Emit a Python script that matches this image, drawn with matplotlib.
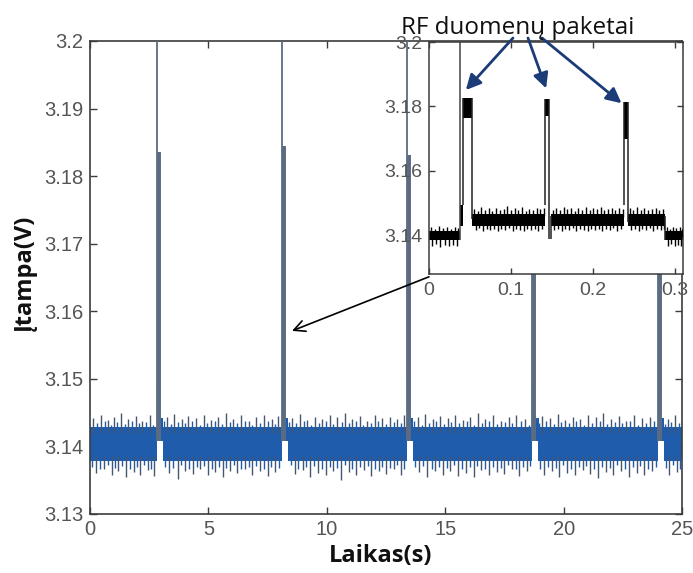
import matplotlib
matplotlib.use("Agg")
import matplotlib.pyplot as plt
from matplotlib.ticker import FuncFormatter

# ---------------- main trace (supply voltage, 25 s record) ----------------
x_ticks = [0, 5, 10, 15, 20, 25]
y_ticks = [3.13, 3.14, 3.15, 3.16, 3.17, 3.18, 3.19, 3.20]

# idle noise band between transmissions
band_start = [0.00, 3.07, 8.35, 13.62, 18.92, 24.22]
band_end = [2.83, 8.11, 13.39, 18.68, 23.99, 25.00]
band_lo = 3.1378
band_hi = 3.1428

# transmission bursts
packet_start = [2.82, 8.10, 13.38, 18.67, 23.98]
packet_peak = [3.215, 3.215, 3.215, 3.215, 3.215]
packet_second = [3.1835, 3.1844, 3.1831, 3.1830, 3.1830]
packet_shoulder = [3.1490, 3.1495, 3.1503, 3.1497, 3.1490]
packet_floor = 3.1408
packet_tail = 3.1442
# time offsets inside one burst: [edge, first pulse, second pulse, shoulder end, burst end]
burst_dt = [0.0, 0.04, 0.12, 0.14, 0.27]

# large noise excursions above / below the idle band (time, voltage)
upper_spikes = [
    (0.12, 3.1442), (0.45, 3.1447), (0.78, 3.1439), (1.02, 3.1444), (1.30, 3.1449),
    (1.62, 3.1441), (1.95, 3.1445), (2.20, 3.1438), (2.55, 3.1446), (3.25, 3.1443),
    (3.55, 3.1448), (3.88, 3.1440), (4.15, 3.1445), (4.48, 3.1442), (4.80, 3.1447),
    (5.10, 3.1439), (5.42, 3.1444), (5.75, 3.1450), (6.05, 3.1441), (6.38, 3.1446),
    (6.70, 3.1438), (7.02, 3.1443), (7.35, 3.1447), (7.68, 3.1440), (7.95, 3.1445),
    (8.55, 3.1442), (8.85, 3.1448), (9.18, 3.1439), (9.50, 3.1444), (9.80, 3.1441),
    (10.12, 3.1446), (10.45, 3.1443), (10.78, 3.1449), (11.05, 3.1440), (11.38, 3.1445),
    (11.70, 3.1438), (12.02, 3.1447), (12.35, 3.1442), (12.65, 3.1444), (12.98, 3.1441),
    (13.25, 3.1446), (13.85, 3.1443), (14.15, 3.1448), (14.48, 3.1440), (14.78, 3.1445),
    (15.10, 3.1442), (15.42, 3.1447), (15.75, 3.1439), (16.05, 3.1444), (16.38, 3.1449),
    (16.70, 3.1441), (17.02, 3.1446), (17.35, 3.1438), (17.68, 3.1443), (18.00, 3.1447),
    (18.35, 3.1440), (19.10, 3.1445), (19.42, 3.1442), (19.75, 3.1448), (20.05, 3.1439),
    (20.38, 3.1444), (20.70, 3.1441), (21.02, 3.1446), (21.35, 3.1443), (21.68, 3.1449),
    (22.00, 3.1440), (22.32, 3.1445), (22.65, 3.1438), (22.98, 3.1447), (23.30, 3.1442),
    (23.65, 3.1444), (24.40, 3.1441), (24.70, 3.1446),
]
lower_spikes = [
    (0.25, 3.1360), (0.60, 3.1366), (0.92, 3.1357), (1.18, 3.1363), (1.50, 3.1354),
    (1.85, 3.1362), (2.10, 3.1358), (2.45, 3.1365), (2.70, 3.1356), (3.35, 3.1361),
    (3.70, 3.1352), (4.02, 3.1364), (4.35, 3.1359), (4.65, 3.1366), (5.00, 3.1357),
    (5.28, 3.1362), (5.60, 3.1355), (5.92, 3.1364), (6.22, 3.1360), (6.55, 3.1366),
    (6.85, 3.1358), (7.18, 3.1363), (7.50, 3.1356), (7.82, 3.1362), (8.65, 3.1359),
    (8.98, 3.1365), (9.30, 3.1354), (9.62, 3.1361), (9.95, 3.1357), (10.28, 3.1364),
    (10.60, 3.1351), (10.92, 3.1362), (11.22, 3.1358), (11.55, 3.1365), (11.88, 3.1356),
    (12.20, 3.1363), (12.50, 3.1359), (12.82, 3.1366), (13.12, 3.1357), (13.90, 3.1362),
    (14.25, 3.1355), (14.58, 3.1364), (14.90, 3.1358), (15.22, 3.1363), (15.55, 3.1356),
    (15.88, 3.1361), (16.20, 3.1354), (16.52, 3.1365), (16.85, 3.1357), (17.18, 3.1362),
    (17.50, 3.1359), (17.82, 3.1366), (18.12, 3.1356), (18.45, 3.1363), (19.15, 3.1358),
    (19.50, 3.1364), (19.82, 3.1355), (20.15, 3.1361), (20.48, 3.1357), (20.80, 3.1365),
    (21.12, 3.1359), (21.45, 3.1353), (21.78, 3.1362), (22.10, 3.1358), (22.42, 3.1364),
    (22.75, 3.1355), (23.08, 3.1361), (23.40, 3.1357), (23.72, 3.1364), (24.45, 3.1358),
    (24.78, 3.1362),
]
# smaller ripple on the band edges (time, voltage)
upper_ripple = [
    (0.28, 3.1434), (0.62, 3.1437), (0.90, 3.1432), (1.16, 3.1436), (1.46, 3.1433),
    (1.78, 3.1438), (2.08, 3.1434), (2.38, 3.1436), (2.68, 3.1432), (3.12, 3.1437),
    (3.40, 3.1433), (3.72, 3.1436), (4.02, 3.1434), (4.32, 3.1438), (4.64, 3.1432),
    (4.95, 3.1435), (5.26, 3.1437), (5.58, 3.1433), (5.90, 3.1436), (6.22, 3.1434),
    (6.54, 3.1438), (6.86, 3.1432), (7.18, 3.1435), (7.52, 3.1437), (7.82, 3.1433),
    (8.42, 3.1436), (8.70, 3.1434), (9.02, 3.1438), (9.34, 3.1432), (9.65, 3.1435),
    (9.96, 3.1437), (10.28, 3.1433), (10.62, 3.1436), (10.92, 3.1434), (11.22, 3.1438),
    (11.54, 3.1432), (11.86, 3.1435), (12.18, 3.1437), (12.50, 3.1433), (12.82, 3.1436),
    (13.12, 3.1434), (13.70, 3.1438), (14.00, 3.1432), (14.32, 3.1435), (14.63, 3.1437),
    (14.94, 3.1433), (15.26, 3.1436), (15.58, 3.1434), (15.90, 3.1438), (16.22, 3.1432),
    (16.54, 3.1435), (16.86, 3.1437), (17.18, 3.1433), (17.52, 3.1436), (17.84, 3.1434),
    (18.18, 3.1438), (18.52, 3.1432), (18.98, 3.1435), (19.26, 3.1437), (19.58, 3.1433),
    (19.90, 3.1436), (20.22, 3.1434), (20.54, 3.1438), (20.86, 3.1432), (21.18, 3.1435),
    (21.52, 3.1437), (21.84, 3.1433), (22.16, 3.1436), (22.48, 3.1434), (22.82, 3.1438),
    (23.14, 3.1432), (23.48, 3.1435), (23.82, 3.1437), (24.30, 3.1433), (24.55, 3.1436),
    (24.88, 3.1434),
]
lower_ripple = [
    (0.08, 3.1370), (0.42, 3.1367), (0.76, 3.1372), (1.05, 3.1368), (1.34, 3.1371),
    (1.68, 3.1366), (1.98, 3.1369), (2.28, 3.1372), (2.58, 3.1367), (3.18, 3.1370),
    (3.52, 3.1368), (3.86, 3.1373), (4.18, 3.1366), (4.50, 3.1369), (4.82, 3.1371),
    (5.14, 3.1367), (5.44, 3.1370), (5.76, 3.1368), (6.08, 3.1372), (6.38, 3.1366),
    (6.70, 3.1369), (7.02, 3.1371), (7.34, 3.1367), (7.66, 3.1370), (7.96, 3.1368),
    (8.48, 3.1372), (8.80, 3.1366), (9.14, 3.1369), (9.46, 3.1371), (9.78, 3.1367),
    (10.12, 3.1370), (10.44, 3.1368), (10.76, 3.1373), (11.08, 3.1366), (11.38, 3.1369),
    (11.72, 3.1371), (12.04, 3.1367), (12.35, 3.1370), (12.66, 3.1368), (12.98, 3.1372),
    (13.26, 3.1366), (13.74, 3.1369), (14.08, 3.1371), (14.42, 3.1367), (14.74, 3.1370),
    (15.06, 3.1368), (15.38, 3.1372), (15.72, 3.1366), (16.04, 3.1369), (16.36, 3.1371),
    (16.68, 3.1367), (17.02, 3.1370), (17.34, 3.1368), (17.66, 3.1372), (17.98, 3.1366),
    (18.30, 3.1369), (18.58, 3.1371), (19.02, 3.1367), (19.32, 3.1370), (19.66, 3.1368),
    (19.98, 3.1372), (20.32, 3.1366), (20.64, 3.1369), (20.96, 3.1371), (21.28, 3.1367),
    (21.62, 3.1370), (21.94, 3.1368), (22.26, 3.1372), (22.58, 3.1366), (22.92, 3.1369),
    (23.24, 3.1371), (23.56, 3.1367), (23.88, 3.1370), (24.32, 3.1368), (24.62, 3.1372),
    (24.92, 3.1366),
]

# ---------------- inset: one 0.31 s window with three RF packets ----------------
ins_x_ticks = [0, 0.1, 0.2, 0.3]
ins_y_ticks = [3.14, 3.16, 3.18, 3.20]

ins_seg_start = [0.0, 0.053, 0.149, 0.2425, 0.288]
ins_seg_end = [0.0376, 0.1415, 0.2385, 0.288, 0.31]
ins_seg_lo = [3.1385, 3.1428, 3.1428, 3.1428, 3.1385]
ins_seg_hi = [3.1413, 3.1466, 3.1466, 3.1466, 3.1413]

ins_wake_t = 0.0376
ins_wake_end = 0.0415
ins_wake_lo = 3.1430
ins_wake_hi = 3.1495
ins_wake_peak = 3.205

ins_pk_start = [0.0415, 0.1415, 0.2385]
ins_pk_end = [0.0525, 0.1460, 0.2425]
ins_pk_top = [3.1825, 3.1822, 3.1815]
ins_pk_block = [3.1765, 3.1770, 3.1700]
ins_pk_base = [3.1450, 3.1390, 3.1440]

ins_step_t = [0.149, 0.288]
ins_step_lo = [3.1390, 3.1385]
ins_step_hi = [3.1460, 3.1460]

ins_upper = [
    (0.002, 3.1426), (0.007, 3.1421), (0.012, 3.1428), (0.017, 3.1422), (0.022, 3.1425),
    (0.027, 3.1420), (0.032, 3.1427), (0.036, 3.1423),
    (0.055, 3.1482), (0.0595, 3.1476), (0.064, 3.1488), (0.0685, 3.1479), (0.073, 3.1484),
    (0.0775, 3.1477), (0.082, 3.1486), (0.0865, 3.1480), (0.091, 3.1483), (0.0955, 3.1491),
    (0.100, 3.1478), (0.1045, 3.1485), (0.109, 3.1480), (0.1135, 3.1487), (0.118, 3.1477),
    (0.1225, 3.1483), (0.127, 3.1479), (0.1315, 3.1486), (0.136, 3.1481), (0.140, 3.1484),
    (0.151, 3.1480), (0.1555, 3.1486), (0.160, 3.1478), (0.1645, 3.1489), (0.169, 3.1481),
    (0.1735, 3.1484), (0.178, 3.1477), (0.1825, 3.1485), (0.187, 3.1480), (0.1915, 3.1487),
    (0.196, 3.1479), (0.2005, 3.1484), (0.205, 3.1481), (0.2095, 3.1488), (0.214, 3.1478),
    (0.2185, 3.1483), (0.223, 3.1486), (0.2275, 3.1479), (0.232, 3.1484), (0.2365, 3.1481),
    (0.245, 3.1484), (0.2495, 3.1479), (0.254, 3.1487), (0.2585, 3.1480), (0.263, 3.1485),
    (0.2675, 3.1478), (0.272, 3.1483), (0.2765, 3.1486), (0.281, 3.1479), (0.2855, 3.1482),
    (0.290, 3.1425), (0.294, 3.1421), (0.298, 3.1427), (0.302, 3.1422), (0.306, 3.1426),
    (0.309, 3.1420),
]
ins_lower = [
    (0.004, 3.1368), (0.009, 3.1372), (0.014, 3.1365), (0.019, 3.1370), (0.024, 3.1367),
    (0.029, 3.1371), (0.034, 3.1366),
    (0.057, 3.1418), (0.0615, 3.1422), (0.066, 3.1414), (0.0705, 3.1420), (0.075, 3.1416),
    (0.0795, 3.1421), (0.084, 3.1413), (0.0885, 3.1419), (0.093, 3.1417), (0.0975, 3.1422),
    (0.102, 3.1415), (0.1065, 3.1420), (0.111, 3.1417), (0.1155, 3.1412), (0.120, 3.1419),
    (0.1245, 3.1416), (0.129, 3.1421), (0.1335, 3.1414), (0.138, 3.1419),
    (0.153, 3.1416), (0.1575, 3.1421), (0.162, 3.1413), (0.1665, 3.1419), (0.171, 3.1417),
    (0.1755, 3.1422), (0.180, 3.1415), (0.1845, 3.1420), (0.189, 3.1416), (0.1935, 3.1412),
    (0.198, 3.1419), (0.2025, 3.1417), (0.207, 3.1421), (0.2115, 3.1414), (0.216, 3.1420),
    (0.2205, 3.1416), (0.225, 3.1422), (0.2295, 3.1415), (0.234, 3.1419),
    (0.247, 3.1417), (0.2515, 3.1421), (0.256, 3.1414), (0.2605, 3.1419), (0.265, 3.1416),
    (0.2695, 3.1422), (0.274, 3.1415), (0.2785, 3.1420), (0.283, 3.1417), (0.2865, 3.1421),
    (0.292, 3.1368), (0.296, 3.1372), (0.300, 3.1366), (0.304, 3.1370), (0.308, 3.1367),
]

# ---------------- styling ----------------
BLUE = "#1f5cab"
BLUE_EDGE = "#46566e"
SPIKE = "#5d6c82"
SPINE = "#3c3c3c"
TICK_TXT = "#555555"
NAVY = "#1b3c78"
TICK_FONT = "Liberation Sans"
LABEL_FONT = ["Open Sans", "DejaVu Sans"]


def matlab_fmt(v, _pos=None):
    s = f"{v:.2f}".rstrip("0").rstrip(".")
    return s if s else "0"


fig = plt.figure(figsize=(6.93, 5.73), dpi=100)
fig.patch.set_facecolor("white")

ax = fig.add_axes([0.1299, 0.1030, 0.8543, 0.8255])
ax.set_xlim(0, 25)
ax.set_ylim(3.13, 3.20)

# idle band
for s, e in zip(band_start, band_end):
    ax.fill_between([s, e], [band_lo, band_lo], [band_hi, band_hi],
                    color=BLUE, lw=0, zorder=2)
for pts, base, color in ((upper_spikes, band_hi - 0.0008, BLUE_EDGE),
                         (upper_ripple, band_hi - 0.0008, BLUE),
                         (lower_spikes, band_lo + 0.0008, BLUE_EDGE),
                         (lower_ripple, band_lo + 0.0008, BLUE)):
    t, v = zip(*pts)
    ax.vlines(t, [base] * len(t), v, color=color, lw=1.0, zorder=3)

# bursts
for tp, pk, sec, sh in zip(packet_start, packet_peak, packet_second, packet_shoulder):
    t_edge, t_p1, t_p2, t_sh, t_end = [tp + d for d in burst_dt]
    ax.fill_between([t_edge, t_sh, t_sh, t_end],
                    [packet_floor] * 4,
                    [sh, sh, packet_tail, packet_tail],
                    color=BLUE, lw=0, zorder=2)
    ax.fill_between([t_p1, t_p2], [sh, sh], [sec, sec],
                    color="#3f6aa6", lw=0, zorder=2)
    ax.vlines([t_p1, t_p2], packet_floor, sec, color=SPIKE, lw=1.4, zorder=3)
    ax.vlines(t_edge, packet_floor, pk, color=SPIKE, lw=1.3, zorder=3)

ax.set_xticks(x_ticks)
ax.set_yticks(y_ticks)
ax.xaxis.set_major_formatter(FuncFormatter(matlab_fmt))
ax.yaxis.set_major_formatter(FuncFormatter(matlab_fmt))
ax.tick_params(direction="in", length=5, width=1.0, color=SPINE,
               top=True, right=True, labelsize=14.5, labelcolor=TICK_TXT)
ax.tick_params(axis="x", pad=4)
ax.tick_params(axis="y", pad=5)
for lab in ax.get_xticklabels() + ax.get_yticklabels():
    lab.set_fontfamily(TICK_FONT)
for sp in ax.spines.values():
    sp.set_color(SPINE)
    sp.set_linewidth(1.2)

ax.set_xlabel("Laikas(s)", family=LABEL_FONT, fontweight="bold",
              fontsize=17, color="#111111", va="center")
ax.xaxis.set_label_coords(381 / 693, 1 - 556 / 573, transform=fig.transFigure)
ax.set_ylabel("Įtampa(V)", family=LABEL_FONT, fontweight="bold",
              fontsize=17, color="#111111", va="center")
ax.yaxis.set_label_coords(25 / 693, 1 - 273 / 573, transform=fig.transFigure)

# ---------------- inset ----------------
ins = fig.add_axes([0.6190, 0.5218, 0.3665, 0.4049])
ins.set_facecolor("white")
ins.set_xlim(0, 0.31)
ins.set_ylim(3.128, 3.20)

for s, e, lo, hi in zip(ins_seg_start, ins_seg_end, ins_seg_lo, ins_seg_hi):
    ins.fill_between([s, e], [lo, lo], [hi, hi], color="black", lw=0, zorder=2)
it_, iv_ = zip(*ins_upper)
jt_, jv_ = zip(*ins_lower)
ins.vlines(it_, [v - 0.0025 for v in iv_], iv_, color="black", lw=1.0, zorder=3)
ins.vlines(jt_, jv_, [v + 0.0025 for v in jv_], color="black", lw=1.0, zorder=3)

ins.fill_between([ins_wake_t, ins_wake_end], [ins_wake_lo] * 2, [ins_wake_hi] * 2,
                 color="black", lw=0, zorder=2)
ins.vlines(ins_wake_t, ins_seg_lo[0], ins_wake_peak, color="#444444", lw=1.1, zorder=3)

for s, e, top, blk, base in zip(ins_pk_start, ins_pk_end, ins_pk_top, ins_pk_block, ins_pk_base):
    ins.fill_between([s, e], [blk, blk], [top, top], color="black", lw=0, zorder=3)
    ins.vlines([s, e], [ins_wake_hi, base], [top, top], color="#222222", lw=1.1, zorder=3)

ins.vlines(ins_step_t, ins_step_lo, ins_step_hi, color="#222222", lw=1.1, zorder=3)

ins.set_xticks(ins_x_ticks)
ins.set_yticks(ins_y_ticks)
ins.xaxis.set_major_formatter(FuncFormatter(matlab_fmt))
ins.yaxis.set_major_formatter(FuncFormatter(matlab_fmt))
ins.tick_params(direction="in", length=4, width=1.0, color=SPINE,
                top=True, right=True, labelsize=14, labelcolor=TICK_TXT)
ins.tick_params(axis="x", pad=6)
ins.tick_params(axis="y", pad=5)
for lab in ins.get_xticklabels() + ins.get_yticklabels():
    lab.set_fontfamily(TICK_FONT)
for sp in ins.spines.values():
    sp.set_color(SPINE)
    sp.set_linewidth(1.1)

# pointer from the zoomed window back to its burst in the main trace
ax.annotate("", xy=(8.53, 3.1571), xycoords="data",
            xytext=(0.0, -0.012), textcoords=ins.transAxes,
            arrowprops=dict(arrowstyle="->,head_length=0.8,head_width=0.4",
                            color="black", lw=1.2, shrinkA=0, shrinkB=0),
            annotation_clip=False, zorder=6)

# packet caption with arrows to the three packets
fig.text(518 / 693, 1 - 28 / 573, "RF duomenų paketai", family=LABEL_FONT,
         fontsize=17.5, color="#111111", ha="center", va="center", zorder=10)
caption_tails = [(513, 38), (528, 38), (542, 38)]
arrow_tips = [(0.045, 3.1851), (0.143, 3.1856), (0.235, 3.1810)]
for (px, py), (tx, ty) in zip(caption_tails, arrow_tips):
    ins.annotate("", xy=(tx, ty), xycoords="data",
                 xytext=(px / 693, 1 - py / 573), textcoords="figure fraction",
                 arrowprops=dict(arrowstyle="-|>,head_length=0.9,head_width=0.45",
                                 color=NAVY, lw=2.0, shrinkA=0, shrinkB=0),
                 annotation_clip=False, zorder=8)

fig.savefig("out.png", dpi=100, facecolor="white")
